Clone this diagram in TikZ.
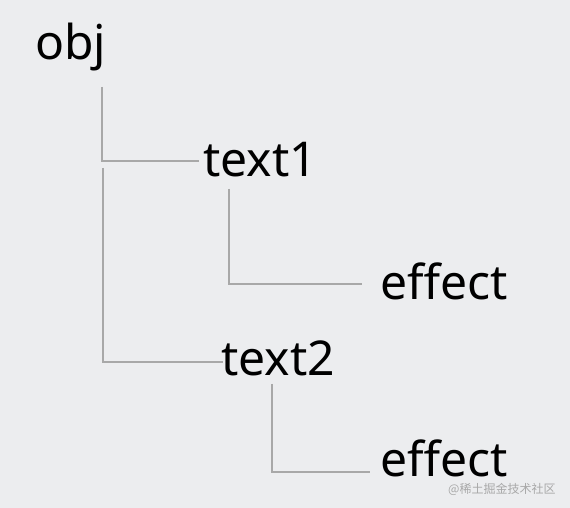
\documentclass[tikz,border=0pt]{standalone}
\usepackage{fontspec}
\setmainfont{Noto Sans}
\newfontfamily\cjk{Noto Sans CJK SC}
\usepackage{tikz}
\usetikzlibrary{positioning}
\definecolor{paper}{HTML}{ECEDEF}
\definecolor{wire}{HTML}{A8A8A8}
\tikzstyle{leaf} = [
    anchor=base west,
    inner sep=0pt,
    font=\fontsize{48}{50}\selectfont,
    text=black
]
\tikzstyle{branch} = [line width=2pt, draw=wire]
\tikzstyle{stamp} = [
    anchor=base west,
    inner sep=0pt,
    font=\cjk\fontsize{12}{13}\selectfont,
    text=wire
]

\begin{document}
\begin{tikzpicture}[x=1pt,y=1pt]

\fill [paper] (0,0) rectangle (570,508);
\useasboundingbox (0,0) rectangle (570,508);

\node (obj) [leaf] at (35,448) {obj};

\node (text1) [leaf] at (203,331) {text1};
\node (effect1) [leaf] at (380,208) {effect};

\node (text2) [leaf] at (221,132) {text2};
\node (effect2) [leaf] at (380,31) {effect};

\node (wm) [stamp] at (448,14) {@稀土掘金技术社区};

% branch ends
\coordinate (s1) at (102,421);
\coordinate (e1) at ([xshift=-4pt,yshift=16pt]text1.base west);
\coordinate (s2) at (103,340);
\coordinate (e2) at ([xshift=2pt,yshift=14pt]text2.base west);
\coordinate (s3) at (229,319);
\coordinate (e3) at ([xshift=-18pt,yshift=16pt]effect1.base west);
\coordinate (s4) at (272,124);
\coordinate (e4) at ([xshift=-10pt,yshift=5pt]effect2.base west);

\draw [branch] (s1) |- (e1);
\draw [branch] (s2) |- (e2);
\draw [branch] (s3) |- (e3);
\draw [branch] (s4) |- (e4);

\end{tikzpicture}
\end{document}
